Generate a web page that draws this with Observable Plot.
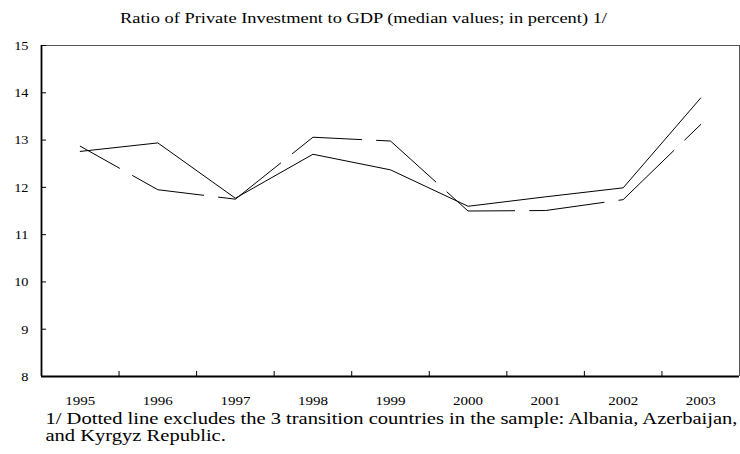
<!DOCTYPE html>
<html>
<head>
<meta charset="utf-8">
<script src="https://cdn.jsdelivr.net/npm/d3@7"></script>
<script src="https://cdn.jsdelivr.net/npm/@observablehq/plot@0.6"></script>
<style>
  html, body { margin: 0; padding: 0; background: #fff; }
  svg { display: block; }
</style>
</head>
<body>
<div id="chart"></div>
<script>
const years = [1995, 1996, 1997, 1998, 1999, 2000, 2001, 2002, 2003];
const allCountries = [12.76, 12.94, 11.77, 12.70, 12.37, 11.60, 11.80, 11.99, 13.89];
const exclTransition = [12.87, 11.95, 11.75, 13.06, 12.98, 11.50, 11.51, 11.74, 13.33];
const yTicks = [8, 9, 10, 11, 12, 13, 14, 15];
const titleText = "Ratio of Private Investment to GDP (median values; in percent) 1/";
const noteLine1 = "1/ Dotted line excludes the 3 transition countries in the sample: Albania, Azerbaijan,";
const noteLine2 = "and Kyrgyz Republic.";

const solidData = years.map((y, i) => ({year: y, value: allCountries[i]}));
const dashedData = years.map((y, i) => ({year: y, value: exclTransition[i]}));
const xMin = years[0] - 0.5, xMax = years[years.length - 1] + 0.5;
const boundaries = years.slice(1).map(y => y - 0.5);

const font = "'Liberation Serif', 'Times New Roman', serif";

const chart = Plot.plot({
  width: 740,
  height: 454,
  marginTop: 45,
  marginBottom: 78,
  marginLeft: 41,
  marginRight: 1,
  style: {fontFamily: font, background: "#fff", color: "#000"},
  x: {type: "linear", domain: [xMin, xMax], axis: null, label: null},
  y: {domain: [8, 15], axis: null, label: null},
  marks: [
    Plot.ruleY([15], {stroke: "#555", strokeWidth: 1}),
    Plot.ruleX([xMax], {stroke: "#555", strokeWidth: 1}),
    // inward ticks
    Plot.axisY(yTicks, {tickSize: -5, tickFormat: () => "", label: null, stroke: "#000"}),
    Plot.axisX(boundaries, {tickSize: -5, tickFormat: () => "", label: null, stroke: "#000"}),
    // labels
    Plot.axisY(yTicks, {tickSize: 0, tickPadding: 13, fontSize: 13.5, label: null, fill: "#000"}),
    Plot.axisX(years, {tickSize: 0, tickPadding: 20, fontSize: 12, label: null, tickFormat: d => String(d), fill: "#000"}),
    Plot.line(solidData, {x: "year", y: "value", stroke: "#000", strokeWidth: 1}),
    Plot.line(dashedData, {x: "year", y: "value", stroke: "#000", strokeWidth: 1, strokeDasharray: "75,15", strokeDashoffset: 30}),
    Plot.ruleX([xMin], {stroke: "#000", strokeWidth: 1.8}),
    Plot.ruleY([8], {stroke: "#000", strokeWidth: 1.8}),
    Plot.text([titleText], {frameAnchor: "top", dx: -27, dy: -23, lineAnchor: "bottom", fontSize: 15, fill: "#000", text: d => d}),
    Plot.text([noteLine1], {frameAnchor: "bottom-left", textAnchor: "start", dx: 4, dy: 47, lineAnchor: "bottom", fontSize: 16, fill: "#000", text: d => d}),
    Plot.text([noteLine2], {frameAnchor: "bottom-left", textAnchor: "start", dx: 4, dy: 64, lineAnchor: "bottom", fontSize: 16, fill: "#000", text: d => d})
  ]
});
document.getElementById("chart").appendChild(chart);

// Horizontal stretch of glyphs to match the reference's wide lettering
const allTexts = Array.from(chart.querySelectorAll("text"));
const byContent = s => allTexts.filter(t => t.textContent === s);
function stretchEl(t, sx) {
  const len = t.getComputedTextLength();
  if (!len) return;
  t.setAttribute("textLength", (len * sx).toFixed(2));
  t.setAttribute("lengthAdjust", "spacingAndGlyphs");
}
const titleEl = byContent(titleText)[0];
const note1El = byContent(noteLine1)[0];
const note2El = byContent(noteLine2)[0];
const titleSx = 487 / titleEl.getComputedTextLength();
const noteSx = 692 / note1El.getComputedTextLength();
stretchEl(titleEl, titleSx);
stretchEl(note1El, noteSx);
stretchEl(note2El, noteSx);
const yearStrings = years.map(String);
const yStrings = yTicks.map(String);
allTexts.forEach(t => {
  if (yearStrings.includes(t.textContent)) stretchEl(t, 1.25);
  else if (yStrings.includes(t.textContent)) stretchEl(t, 1.06);
});
</script>
</body>
</html>
